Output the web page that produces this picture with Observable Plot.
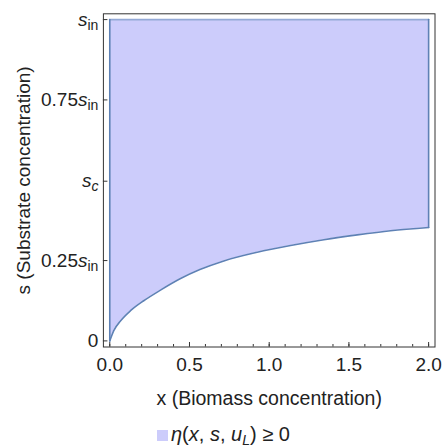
<!DOCTYPE html>
<html><head><meta charset="utf-8">
<script src="https://cdn.jsdelivr.net/npm/d3@7"></script>
<script src="https://cdn.jsdelivr.net/npm/@observablehq/plot@0.6"></script>
<style>
html,body{margin:0;padding:0;background:#fff;}
body{width:444px;height:448px;overflow:hidden;font-family:"Liberation Sans",Arial,sans-serif;}
#legend{position:relative;height:28px;font-size:20px;color:#222;}
#legend .sw{position:absolute;left:157px;top:10px;width:11px;height:11px;background:#ccccfb;}
#legend .tx{position:absolute;left:171px;top:2px;line-height:24px;white-space:nowrap;}
#legend sub{font-size:14px;vertical-align:-4px;line-height:0;}
</style></head><body>
<div id="chart"></div>
<div id="legend"><span class="sw"></span><span class="tx"><i>η</i>(<i>x</i>, <i>s</i>, <i>u</i><sub><i>L</i></sub>) ≥ 0</span></div>
<script>
// boundary curve of the region
const xs = [0, 0.025, 0.067, 0.13, 0.213, 0.318, 0.444, 0.565, 0.715, 0.925, 1.134, 1.343, 1.552, 1.761, 2.0];
const ss = [0, 0.032, 0.062, 0.094, 0.125, 0.158, 0.194, 0.222, 0.249, 0.276, 0.297, 0.315, 0.33, 0.343, 0.353];
const sIn = 1;
const sC = 0.497;
const xMax = 2;
const yTicks = [0, 0.25, sC, 0.75, sIn];
const yTickLabels = ["0", "0.25s_in", "s_c", "0.75s_in", "s_in"];
const xMajor = [0, 0.5, 1, 1.5, 2];
const xMinor = [0, 0.1, 0.2, 0.3, 0.4, 0.5, 0.6, 0.7, 0.8, 0.9, 1, 1.1, 1.2, 1.3, 1.4, 1.5, 1.6, 1.7, 1.8, 1.9, 2];
const xTitle = "x (Biomass concentration)";
const yTitle = "s (Substrate concentration)";

const fillC = "#ccccfb";
const lineC = "#5e81b5";
const ink = "#222";

const curve = xs.map((x, i) => ({x, s: ss[i]}));
const rightSide = [{x: xMax, s: ss[ss.length - 1]}, {x: xMax, s: sIn}];
const leftSide = [{x: 0, s: sIn}, {x: 0, s: ss[0]}];
const topSide = [{x: 0, s: sIn}, {x: xMax, s: sIn}];

const H = 420;
const chart = Plot.plot({
  width: 444,
  height: H,
  marginLeft: 102.9,
  marginRight: 9.5,
  marginTop: 13.3,
  marginBottom: H - 346.5,
  x: {domain: [-0.04, 2.04], label: null},
  y: {domain: [-0.019, 1.018], label: null},
  style: {fontFamily: '"Liberation Sans", Arial, sans-serif', fontSize: "19px", color: ink, background: "#fff"},
  marks: [
    Plot.areaY(curve, {x: "x", y1: "s", y2: sIn, fill: fillC, curve: "monotone-x"}),
    Plot.line(topSide, {x: "x", y: "s", stroke: "#93a9d6", strokeWidth: 1.6}),
    Plot.line(curve, {x: "x", y: "s", stroke: lineC, strokeWidth: 1.6, curve: "monotone-x"}),
    Plot.line(rightSide, {x: "x", y: "s", stroke: lineC, strokeWidth: 1.6}),
    Plot.line(leftSide, {x: "x", y: "s", stroke: lineC, strokeWidth: 1.6}),
    Plot.frame({stroke: "#333", strokeWidth: 1}),
    Plot.axisX({ticks: xMinor, tickSize: -2.5, tickFormat: () => "", label: null, stroke: "#333"}),
    Plot.axisX({ticks: xMajor, tickSize: -4.5, tickFormat: () => "", label: null, stroke: "#333"}),
    Plot.axisX({ticks: xMajor, tickSize: 0, tickPadding: 10, tickFormat: d => d.toFixed(1), label: null, fill: ink}),
    Plot.axisY({ticks: yTicks, tickSize: -4.5, tickFormat: () => "", label: null, stroke: "#333"}),
    Plot.axisY({ticks: yTicks, tickSize: 0, tickPadding: 5, tickFormat: d => yTickLabels[yTicks.indexOf(d)], label: null, fill: ink}),
    Plot.text([xTitle], {frameAnchor: "bottom", lineAnchor: "top", dy: 44, fontSize: 19.5, fill: ink}),
    Plot.text([yTitle], {frameAnchor: "left", lineAnchor: "top", textAnchor: "middle", rotate: -90, dx: -87, fontSize: 19, fill: ink})
  ]
});
document.getElementById("chart").appendChild(chart);

// italic s with subscripts on the y tick labels
chart.querySelectorAll('g[aria-label="y-axis tick label"] text').forEach(t => {
  const str = t.textContent;
  const k = str.indexOf("s_");
  if (k < 0) return;
  const pre = str.slice(0, k), sub = str.slice(k + 2);
  t.textContent = "";
  const ns = "http://www.w3.org/2000/svg";
  if (pre) { const a = document.createElementNS(ns, "tspan"); a.textContent = pre; t.appendChild(a); }
  const b = document.createElementNS(ns, "tspan"); b.textContent = "s"; b.setAttribute("font-style", "italic"); t.appendChild(b);
  const c = document.createElementNS(ns, "tspan"); c.textContent = sub; c.setAttribute("font-size", "14px"); c.setAttribute("dy", "0.3em");
  if (sub === "c") c.setAttribute("font-style", "italic");
  t.appendChild(c);
});
</script>
</body></html>
